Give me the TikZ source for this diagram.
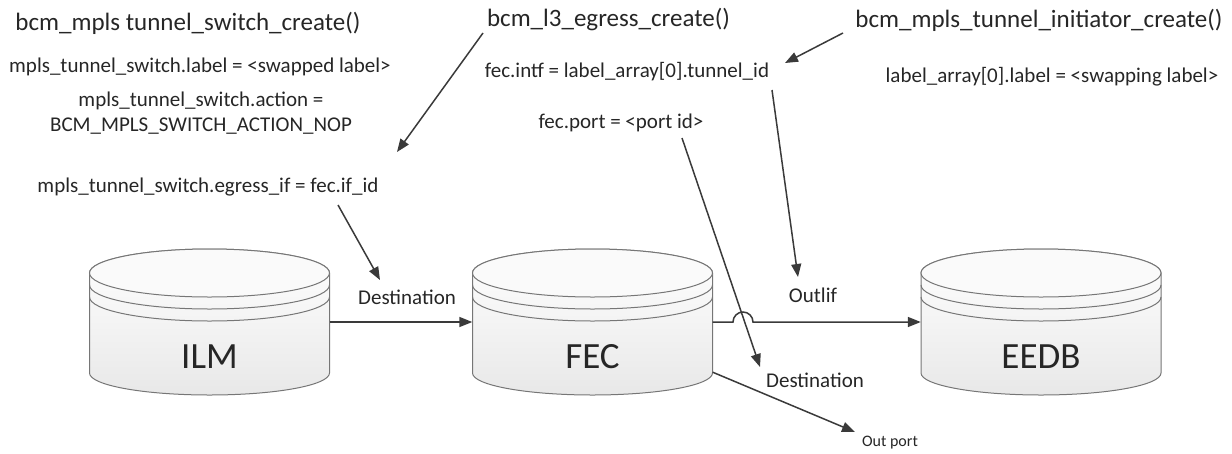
\documentclass[tikz,border=0pt]{standalone}
\usepackage{fontspec}
\setmainfont{Carlito}
\usetikzlibrary{arrows.meta,calc}

\definecolor{ink}{HTML}{262626}
\definecolor{wire}{HTML}{3A3A3A}
\definecolor{rim}{HTML}{767676}

\tikzset{
  txt/.style={inner sep=0pt, text=ink, font=\fontsize{21}{25.5}\selectfont, align=center},
  title/.style={txt, font=\fontsize{25}{30}\selectfont},
  small/.style={txt, font=\fontsize{16}{19}\selectfont},
  dbname/.style={txt, font=\fontsize{37}{44}\selectfont},
  body/.style={inner sep=0pt, minimum width=240pt, minimum height=100pt},
  link/.style={draw=wire, line width=1.5pt, -{Triangle[length=13pt,width=10pt]}},
  rimline/.style={draw=rim, line width=1pt},
}

% database drum: centre x, node name, caption
\newcommand\drum[3]{%
  \path[rimline, top color=white, bottom color=black!9]
    (#1-120,-273) -- (#1-120,-373)
    arc[start angle=180, end angle=360, x radius=120, y radius=22]
    -- (#1+120,-273)
    arc[start angle=0, end angle=180, x radius=120, y radius=24] -- cycle;
  \path[rimline, fill=black!2] (#1,-273) ellipse[x radius=120, y radius=24];
  \draw[rimline] (#1-120,-285) arc[start angle=180, end angle=360, x radius=120, y radius=24];
  \draw[rimline] (#1-120,-297) arc[start angle=180, end angle=360, x radius=120, y radius=24];
  \node[body] (#2) at (#1,-322) {};
  \node[dbname] (#2-name) at (#1,-357) {#3};
}

\begin{document}
\begin{tikzpicture}[x=1pt,y=1pt]
\useasboundingbox (0,0) rectangle (1232,-453);

% the three tables
\drum{209.5}{ilm}{ILM}
\drum{592.5}{fec}{FEC}
\drum{1041}{eedb}{EEDB}

% API calls
\node[title] (swcreate) at (188,-23) {bcm\_mpls tunnel\_switch\_create()};
\node[title] (l3create) at (608.5,-20) {bcm\_l3\_egress\_create()};
\node[title] (initcreate) at (1039,-20) {bcm\_mpls\_tunnel\_initiator\_create()};

% fields set by each call
\node[txt] (swlabel) at (200,-67) {mpls\_tunnel\_switch.label = <swapped label>};
\node[txt] (swaction) at (201,-113) {mpls\_tunnel\_switch.action =\\BCM\_MPLS\_SWITCH\_ACTION\_NOP};
\node[txt] (swegress) at (208,-187) {mpls\_tunnel\_switch.egress\_if = fec.if\_id};
\node[txt] (fecintf) at (627,-72) {fec.intf = label\_array[0].tunnel\_id};
\node[txt] (fecport) at (621,-123) {fec.port = <port id>};
\node[txt] (lalabel) at (1052,-77) {label\_array[0].label = <swapping label>};

% link captions
\node[txt] (dest1) at (407,-297) {Destination};
\node[txt] (outlif) at (813,-295) {Outlif};
\node[txt] (dest2) at (815,-380) {Destination};
\node[small] (outport) at (890,-443) {Out port};

% connector ends
\coordinate (a1s) at (483,-33);  \coordinate (a1e) at (397,-152);
\coordinate (a2s) at (843,-33);  \coordinate (a2e) at (785,-63);
\coordinate (a3s) at (772,-90);  \coordinate (a3e) at (798,-277);
\coordinate (a4s) at (682,-138); \coordinate (a4e) at (760,-367);
\coordinate (a5s) at (338,-205); \coordinate (a5e) at (380,-280);
\coordinate (a6e) at (855,-432);
\coordinate (hop) at (733,-322);

\draw[link] (a1s) -- (a1e);
\draw[link] (a2s) -- (a2e);
\draw[link] (a3s) -- (a3e);
\draw[link] (a5s) -- (a5e);
\draw[link] (ilm.east) -- (fec.west);
\draw[link] (fec.east) -- (hop) arc[start angle=180, end angle=0, radius=10] -- (eedb.west);
\draw[link] (a4s) -- (a4e);
\draw[link] (fec.south east) -- (a6e);
\end{tikzpicture}
\end{document}
